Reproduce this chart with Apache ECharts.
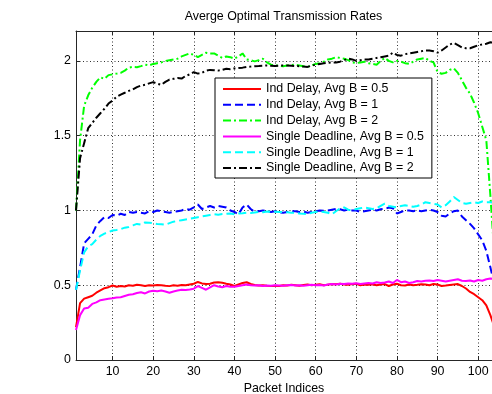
<!DOCTYPE html>
<html>
<head>
<meta charset="utf-8">
<script src="https://cdn.jsdelivr.net/npm/echarts@6/dist/echarts.min.js"></script>
<style>
html,body{margin:0;padding:0;background:#fff;}
#chart{width:492px;height:394px;}
</style>
</head>
<body>
<div id="chart"></div>
<script>
const titleText = 'Averge Optimal Transmission Rates';
const xAxisName = 'Packet Indices';
const xTicks = [10, 20, 30, 40, 50, 60, 70, 80, 90, 100];
const yTicks = [0, 0.5, 1, 1.5, 2];
const seriesNames = [
  'Ind Delay, Avg B = 0.5',
  'Ind Delay, Avg B = 1',
  'Ind Delay, Avg B = 2',
  'Single Deadline, Avg B = 0.5',
  'Single Deadline, Avg B = 1',
  'Single Deadline, Avg B = 2'
];

const indDelay05 = [
  0.22,0.38,0.41,0.42,0.43,0.45,0.465,0.48,0.487,0.498,
  0.49,0.495,0.492,0.5,0.497,0.503,0.5,0.495,0.5,0.498,
  0.502,0.5,0.496,0.494,0.5,0.497,0.502,0.5,0.505,0.51,
  0.522,0.512,0.508,0.51,0.518,0.52,0.516,0.51,0.505,0.495,
  0.505,0.515,0.52,0.508,0.502,0.498,0.5,0.496,0.494,0.497,
  0.495,0.5,0.498,0.503,0.5,0.496,0.502,0.505,0.5,0.503,
  0.506,0.5,0.504,0.508,0.506,0.51,0.505,0.503,0.508,0.51,
  0.5,0.505,0.503,0.506,0.5,0.505,0.508,0.495,0.505,0.51,
  0.5,0.498,0.505,0.5,0.503,0.507,0.505,0.5,0.508,0.505,
  0.495,0.498,0.502,0.505,0.508,0.495,0.478,0.455,0.44,0.42,
  0.4,0.365,0.3,0.22
];
const indDelay1 = [
  0.47,0.62,0.78,0.81,0.84,0.9,0.93,0.955,0.95,0.97,
  0.965,0.978,0.97,0.99,0.985,0.99,0.985,0.98,0.995,0.99,
  1.0,0.995,0.99,0.985,0.99,0.995,1.0,1.01,1.005,1.02,
  1.04,1.01,1.02,1.03,1.02,1.03,1.025,1.02,1.0,0.99,
  0.975,1.02,1.04,1.01,0.99,0.995,1.0,0.995,0.99,0.995,
  0.988,0.985,0.99,0.995,0.995,0.99,0.992,0.985,0.99,0.995,
  1.0,0.998,1.0,1.005,1.01,1.008,1.0,1.005,1.0,1.0,
  0.99,0.995,1.0,1.005,1.0,1.008,1.01,1.02,1.015,0.98,
  0.99,1.0,1.0,0.995,1.0,0.995,1.0,1.005,1.0,0.99,
  0.965,0.96,0.98,0.995,1.0,0.96,0.935,0.91,0.88,0.84,
  0.8,0.73,0.62,0.5
];
const indDelay2 = [
  1.0,1.47,1.7,1.77,1.82,1.86,1.89,1.88,1.905,1.91,
  1.915,1.92,1.935,1.955,1.96,1.958,1.965,1.975,1.97,1.98,
  1.985,1.99,2.0,2.005,2.01,2.015,2.03,2.04,2.05,2.04,
  2.025,2.04,2.055,2.05,2.05,2.035,2.02,2.03,2.025,2.015,
  2.03,2.05,2.01,2.005,1.997,2.005,2.015,1.99,1.975,1.97,
  1.968,1.965,1.97,1.972,1.975,1.97,1.965,1.96,1.97,1.98,
  1.985,1.995,2.01,2.015,2.025,2.02,2.015,2.005,1.99,1.985,
  1.99,1.995,1.985,1.98,1.975,2.0,2.02,2.0,1.99,2.0,
  1.995,1.985,1.98,1.995,2.01,2.015,2.02,2.0,1.99,1.925,
  1.914,1.92,1.94,1.95,1.92,1.87,1.82,1.78,1.72,1.65,
  1.56,1.47,1.1,0.7
];
const single05 = [
  0.2,0.3,0.345,0.35,0.375,0.385,0.4,0.405,0.41,0.413,
  0.418,0.42,0.428,0.436,0.44,0.448,0.453,0.445,0.458,0.463,
  0.46,0.465,0.458,0.45,0.458,0.465,0.47,0.468,0.472,0.477,
  0.494,0.482,0.47,0.485,0.5,0.492,0.487,0.495,0.49,0.49,
  0.495,0.5,0.505,0.5,0.498,0.5,0.495,0.498,0.496,0.5,
  0.498,0.496,0.5,0.502,0.498,0.5,0.497,0.5,0.503,0.5,
  0.502,0.498,0.505,0.508,0.505,0.51,0.508,0.512,0.51,0.513,
  0.508,0.512,0.515,0.512,0.52,0.515,0.518,0.525,0.515,0.535,
  0.52,0.525,0.515,0.52,0.528,0.525,0.53,0.532,0.528,0.535,
  0.53,0.525,0.53,0.535,0.54,0.53,0.528,0.532,0.525,0.535,
  0.53,0.54,0.545,0.542
];
const single1 = [
  0.47,0.6,0.72,0.76,0.775,0.805,0.83,0.845,0.855,0.866,
  0.87,0.875,0.885,0.89,0.9,0.91,0.905,0.92,0.918,0.915,
  0.91,0.908,0.905,0.915,0.925,0.93,0.935,0.94,0.945,0.95,
  0.955,0.96,0.965,0.97,0.975,0.972,0.976,0.978,0.98,0.975,
  0.98,0.982,0.985,0.983,0.987,0.99,0.988,0.993,0.99,0.992,
  0.99,0.99,0.988,0.985,0.985,0.98,0.978,0.975,0.985,0.99,
  0.993,0.99,0.985,0.975,0.995,1.015,1.02,1.005,1.0,1.01,
  1.015,1.02,1.015,1.01,1.015,1.03,1.045,1.03,1.025,1.02,
  1.03,1.035,1.03,1.025,1.03,1.04,1.055,1.05,1.045,1.04,
  1.02,1.035,1.06,1.09,1.07,1.05,1.045,1.05,1.055,1.05,
  1.06,1.055,1.055,1.05
];
const single2 = [
  1.0,1.35,1.45,1.55,1.585,1.62,1.65,1.68,1.715,1.735,
  1.76,1.775,1.787,1.8,1.81,1.825,1.835,1.84,1.85,1.858,
  1.848,1.84,1.86,1.875,1.88,1.885,1.882,1.9,1.91,1.925,
  1.915,1.92,1.935,1.94,1.938,1.935,1.94,1.948,1.945,1.95,
  1.953,1.955,1.96,1.962,1.965,1.966,1.968,1.97,1.968,1.966,
  1.968,1.97,1.97,1.968,1.966,1.965,1.962,1.96,1.968,1.975,
  1.98,1.985,1.988,1.99,1.99,1.995,2.005,2.015,2.01,2.0,
  2.005,2.01,2.01,2.015,2.02,2.025,2.03,2.035,2.055,2.04,
  2.035,2.045,2.05,2.055,2.06,2.065,2.07,2.07,2.065,2.055,
  2.07,2.09,2.11,2.12,2.105,2.09,2.085,2.085,2.095,2.105,
  2.11,2.115,2.125,2.12
];

const allSeries = [indDelay05, indDelay1, indDelay2, single05, single1, single2];
const colors = ['#ff0000', '#0000ff', '#00ff00', '#ff00ff', '#00ffff', '#000000'];
const dashSolid = 'solid';
const dashDashed = [8, 4];
const dashDashDot = [8, 3, 2, 3];
const lineTypes = [dashSolid, dashDashed, dashDashDot, dashSolid, dashDashed, dashDashDot];

const FONT = 'Liberation Sans, Arial, Helvetica, sans-serif';
const FS = 12.4;

const chart = echarts.init(document.getElementById('chart'), null, {renderer: 'canvas'});

const xMin = 1, xMax = 103.4;

const series = allSeries.map((vals, k) => ({
  name: seriesNames[k],
  type: 'line',
  data: vals.map((v, i) => [i + 1, v]),
  symbol: 'none',
  showSymbol: false,
  smooth: false,
  clip: true,
  animation: false,
  lineStyle: { color: colors[k], width: 2, type: lineTypes[k] },
  itemStyle: { color: colors[k] },
  z: 3 + k
}));

chart.setOption({
  backgroundColor: '#ffffff',
  animation: false,
  textStyle: { fontFamily: FONT },
  graphic: [{
    type: 'text',
    x: 283.5, y: 16.7,
    style: {
      text: titleText,
      fontFamily: FONT, fontSize: FS, fill: '#000',
      align: 'center', verticalAlign: 'middle'
    },
    z: 10
  }],
  grid: { left: 76, right: 0, top: 31, bottom: 34, containLabel: false, outerBoundsMode: 'none' },
  legend: {
    orient: 'vertical',
    left: 215, top: 78,
    padding: [5, 8, 4, 7],
    itemWidth: 38, itemHeight: 14, itemGap: 3.8,
    backgroundColor: '#ffffff',
    borderColor: '#000000', borderWidth: 1,
    itemStyle: { opacity: 0, color: 'rgba(0,0,0,0)', borderWidth: 0 },
    textStyle: { fontFamily: FONT, fontSize: FS, color: '#000' },
    data: seriesNames,
    selectedMode: false
  },
  xAxis: [{
    type: 'value', min: xMin, max: xMax,
    name: xAxisName, nameLocation: 'middle', nameGap: 22,
    nameTextStyle: { fontFamily: FONT, fontSize: FS, color: '#000' },
    axisLine: { show: true, onZero: false, lineStyle: { color: '#262626', width: 1 } },
    axisTick: { show: true, inside: true, length: 4, customValues: xTicks, lineStyle: { color: '#262626' } },
    axisLabel: { customValues: xTicks, margin: 6, fontFamily: FONT, fontSize: FS, color: '#000' },
    splitLine: { show: true, lineStyle: { color: '#333', width: 1, type: [1, 2.5] } }
  }, {
    type: 'value', min: xMin, max: xMax, position: 'top',
    axisLine: { show: true, onZero: false, lineStyle: { color: '#262626', width: 1 } },
    axisTick: { show: true, inside: true, length: 4, customValues: xTicks, lineStyle: { color: '#262626' } },
    axisLabel: { show: false },
    splitLine: { show: false }
  }],
  yAxis: [{
    type: 'value', min: 0, max: 2.2,
    axisLine: { show: true, onZero: false, lineStyle: { color: '#262626', width: 1 } },
    axisTick: { show: true, inside: true, length: 4, customValues: yTicks, lineStyle: { color: '#262626' } },
    axisLabel: { customValues: yTicks, margin: 5, fontFamily: FONT, fontSize: FS, color: '#000' },
    splitLine: { show: true, lineStyle: { color: '#333', width: 1, type: [1, 2.5] } }
  }],
  series: series
});
</script>
</body>
</html>
